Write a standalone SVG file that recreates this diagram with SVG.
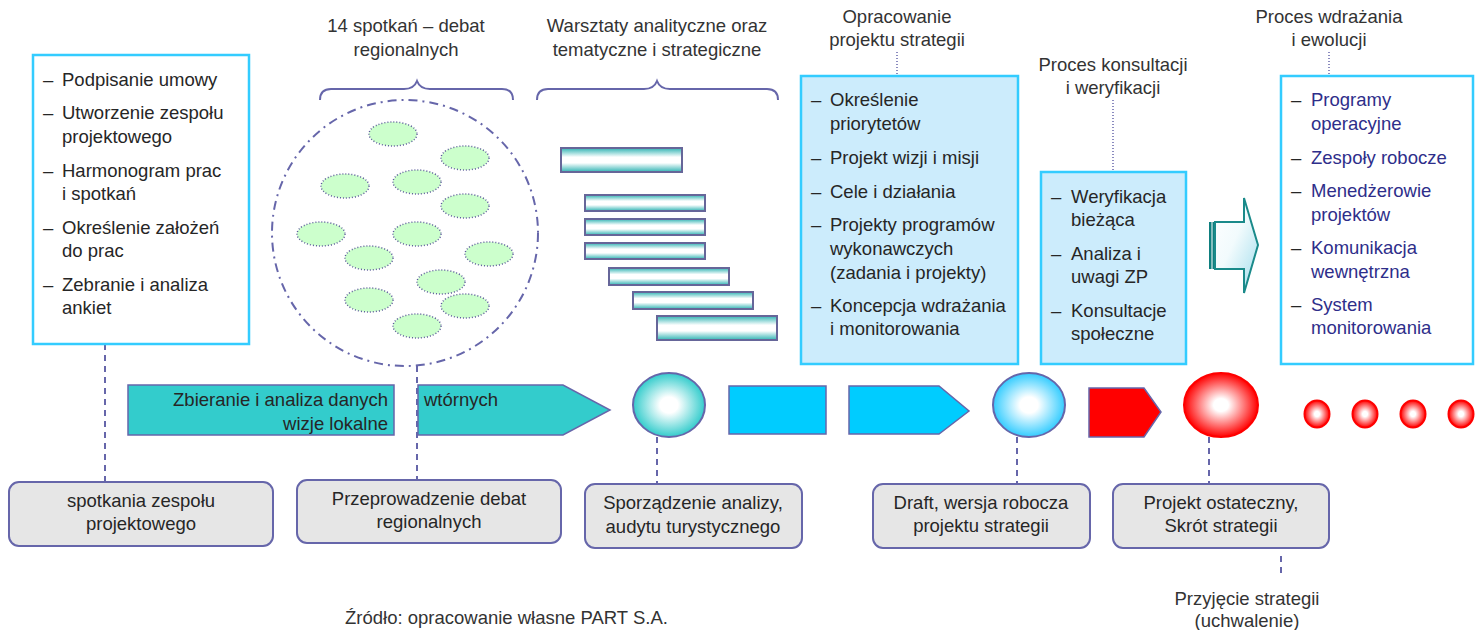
<svg xmlns="http://www.w3.org/2000/svg" width="1481" height="630" viewBox="0 0 1481 630">
  <style>
    text { font-family: "Liberation Sans", Arial, sans-serif; font-size: 18.5px; fill: #262626; }
    .c { text-anchor: middle; }
    .lbl { fill: #333333; }
    .navy { fill: #2e2e8a; }
    .listbox { fill: #ffffff; stroke: #33ccff; stroke-width: 2.5; }
    .listbox.blue { fill: #ccecfc; }
    .step { fill: #e6e6e6; stroke: #6666aa; stroke-width: 2; }
    .dash { fill: none; stroke: #6666aa; stroke-width: 2; stroke-dasharray: 6 5; }
    .dot { fill: none; stroke: #6666aa; stroke-width: 1.5; stroke-dasharray: 1 2; }
    .brace { fill: none; stroke: #6666aa; stroke-width: 2; }
    .meet { fill: #ccffcc; stroke: #5c5c99; stroke-width: 1.5; stroke-dasharray: 1 2; }
    .bar { fill: url(#barGrad); stroke: #666699; stroke-width: 2; }
    .flow { stroke: #6666aa; stroke-width: 1.5; }
    .redball { fill: url(#redGrad); stroke: #ff0000; stroke-width: 2; }
  </style>
  <defs>
    <linearGradient id="barGrad" x1="0" y1="0" x2="0" y2="1">
      <stop offset="0" stop-color="#2fb3b3"/>
      <stop offset="0.38" stop-color="#ffffff"/>
      <stop offset="0.62" stop-color="#ffffff"/>
      <stop offset="1" stop-color="#2fb3b3"/>
    </linearGradient>
    <radialGradient id="tealGrad" cx="0.5" cy="0.5" r="0.5">
      <stop offset="0" stop-color="#ffffff"/>
      <stop offset="0.25" stop-color="#ffffff"/>
      <stop offset="1" stop-color="#33cccc"/>
    </radialGradient>
    <radialGradient id="blueGrad" cx="0.5" cy="0.5" r="0.5">
      <stop offset="0" stop-color="#ffffff"/>
      <stop offset="0.25" stop-color="#ffffff"/>
      <stop offset="1" stop-color="#33ccff"/>
    </radialGradient>
    <radialGradient id="redGrad" cx="0.5" cy="0.5" r="0.5">
      <stop offset="0" stop-color="#ffffff"/>
      <stop offset="0.2" stop-color="#ffffff"/>
      <stop offset="1" stop-color="#ff0000"/>
    </radialGradient>
    <linearGradient id="blockGrad" x1="0" y1="0" x2="1" y2="1">
      <stop offset="0" stop-color="#ffffff"/>
      <stop offset="0.45" stop-color="#f2fbfd"/>
      <stop offset="1" stop-color="#9fdcec"/>
    </linearGradient>
  </defs>

  <!-- connectors -->
  <g id="connectors">
    <line class="dash" x1="105" y1="344" x2="105" y2="482"/>
    <line class="dash" x1="417" y1="366" x2="417" y2="480"/>
    <line class="dash" x1="657" y1="437" x2="657" y2="484"/>
    <line class="dash" x1="1017" y1="437" x2="1017" y2="484"/>
    <line class="dash" x1="1209" y1="437" x2="1209" y2="484"/>
    <line class="dash" x1="1281" y1="556" x2="1281" y2="578"/>
    <line class="dot" x1="897" y1="52" x2="897" y2="76"/>
    <line class="dot" x1="1113" y1="100" x2="1113" y2="172"/>
    <line class="dot" x1="1329" y1="52" x2="1329" y2="76"/>
  </g>

  <!-- preparation tasks -->
  <g id="prep">
    <rect class="listbox" x="33" y="55" width="216" height="289"/>
    <text x="43" y="86">–</text><text x="62" y="86">Podpisanie umowy</text>
    <text x="43" y="119">–</text><text x="62" y="119">Utworzenie zespołu</text>
    <text x="62" y="143">projektowego</text>
    <text x="43" y="177">–</text><text x="62" y="177">Harmonogram prac</text>
    <text x="62" y="200">i spotkań</text>
    <text x="43" y="234">–</text><text x="62" y="234">Określenie założeń</text>
    <text x="62" y="257">do prac</text>
    <text x="43" y="291">–</text><text x="62" y="291">Zebranie i analiza</text>
    <text x="62" y="314">ankiet</text>
  </g>

  <!-- regional debates -->
  <g id="debates">
    <text class="lbl c" x="406" y="32">14 spotkań – debat</text>
    <text class="lbl c" x="406" y="56">regionalnych</text>
    <path class="brace" d="M320,100 Q320,89 331,89 H404 Q414,89 417,81 Q420,89 430,89 H502 Q513,89 513,100"/>
    <circle cx="405" cy="233" r="133" fill="none" stroke="#6666aa" stroke-width="2" stroke-dasharray="9 5 2 5"/>
    <ellipse class="meet" cx="393" cy="134" rx="24" ry="12"/>
    <ellipse class="meet" cx="465" cy="158" rx="24" ry="12"/>
    <ellipse class="meet" cx="345" cy="186" rx="24" ry="12"/>
    <ellipse class="meet" cx="417" cy="182" rx="24" ry="12"/>
    <ellipse class="meet" cx="465" cy="206" rx="24" ry="12"/>
    <ellipse class="meet" cx="321" cy="234" rx="24" ry="12"/>
    <ellipse class="meet" cx="417" cy="234" rx="24" ry="12"/>
    <ellipse class="meet" cx="369" cy="258" rx="24" ry="12"/>
    <ellipse class="meet" cx="489" cy="254" rx="24" ry="12"/>
    <ellipse class="meet" cx="441" cy="282" rx="24" ry="12"/>
    <ellipse class="meet" cx="369" cy="300" rx="24" ry="12"/>
    <ellipse class="meet" cx="465" cy="306" rx="24" ry="12"/>
    <ellipse class="meet" cx="417" cy="326" rx="24" ry="12"/>
  </g>

  <!-- workshops -->
  <g id="workshops">
    <text class="lbl c" x="657" y="32">Warsztaty analityczne oraz</text>
    <text class="lbl c" x="657" y="56">tematyczne i strategiczne</text>
    <path class="brace" d="M537,100 Q537,89 548,89 H644 Q654,89 657,81 Q660,89 670,89 H767 Q778,89 778,100"/>
    <rect class="bar" x="561" y="148" width="121" height="24"/>
    <rect class="bar" x="585" y="195" width="120" height="16"/>
    <rect class="bar" x="585" y="219" width="120" height="16"/>
    <rect class="bar" x="585" y="243" width="120" height="16"/>
    <rect class="bar" x="609" y="268" width="120" height="17"/>
    <rect class="bar" x="633" y="292" width="120" height="17"/>
    <rect class="bar" x="657" y="316" width="120" height="24"/>
  </g>

  <!-- strategy draft -->
  <g id="draft">
    <text class="lbl c" x="897" y="23">Opracowanie</text>
    <text class="lbl c" x="897" y="46">projektu strategii</text>
    <rect class="listbox blue" x="801" y="76" width="217" height="288"/>
    <text x="811" y="106">–</text><text x="830" y="106">Określenie</text>
    <text x="830" y="130">priorytetów</text>
    <text x="811" y="164">–</text><text x="830" y="164">Projekt wizji i misji</text>
    <text x="811" y="198">–</text><text x="830" y="198">Cele i działania</text>
    <text x="811" y="231">–</text><text x="830" y="231">Projekty programów</text>
    <text x="830" y="255">wykonawczych</text>
    <text x="830" y="279">(zadania i projekty)</text>
    <text x="811" y="312">–</text><text x="830" y="312">Koncepcja wdrażania</text>
    <text x="830" y="335">i monitorowania</text>
  </g>

  <!-- consultation -->
  <g id="consult">
    <text class="lbl c" x="1113" y="71">Proces konsultacji</text>
    <text class="lbl c" x="1113" y="94">i weryfikacji</text>
    <rect class="listbox blue" x="1041" y="172" width="145" height="192"/>
    <text x="1051" y="203">–</text><text x="1071" y="203">Weryfikacja</text>
    <text x="1071" y="226">bieżąca</text>
    <text x="1051" y="260">–</text><text x="1071" y="260">Analiza i</text>
    <text x="1071" y="283">uwagi ZP</text>
    <text x="1051" y="317">–</text><text x="1071" y="317">Konsultacje</text>
    <text x="1071" y="340">społeczne</text>
  </g>

  <!-- block arrow -->
  <g id="handover">
    <rect x="1209" y="222" width="2.5" height="47" fill="#0e7f7f"/>
    <rect x="1212.5" y="222" width="2.5" height="47" fill="#0e7f7f"/>
    <path d="M1215,222 H1244 V198 L1258,245 L1244,293 V269 H1215 Z" fill="url(#blockGrad)" stroke="#1a8a8a" stroke-width="2"/>
  </g>

  <!-- implementation -->
  <g id="implement">
    <text class="lbl c" x="1329" y="23">Proces wdrażania</text>
    <text class="lbl c" x="1329" y="46">i ewolucji</text>
    <rect class="listbox" x="1281" y="76" width="192" height="288"/>
    <text x="1291" y="106">–</text><text class="navy" x="1311" y="106">Programy</text>
    <text class="navy" x="1311" y="130">operacyjne</text>
    <text x="1291" y="164">–</text><text class="navy" x="1311" y="164">Zespoły robocze</text>
    <text x="1291" y="197">–</text><text class="navy" x="1311" y="197">Menedżerowie</text>
    <text class="navy" x="1311" y="221">projektów</text>
    <text x="1291" y="254">–</text><text class="navy" x="1311" y="254">Komunikacja</text>
    <text class="navy" x="1311" y="278">wewnętrzna</text>
    <text x="1291" y="311">–</text><text class="navy" x="1311" y="311">System</text>
    <text class="navy" x="1311" y="334">monitorowania</text>
  </g>

  <!-- timeline -->
  <g id="data-collection">
    <rect class="flow" x="128" y="385" width="266" height="50" fill="#33cccc"/>
    <path class="flow" d="M418,385 H563 L610,410 L563,435 H418 Z" fill="#33cccc"/>
    <text x="388" y="406" text-anchor="end">Zbieranie i analiza danych</text>
    <text x="388" y="430" text-anchor="end">wizje lokalne</text>
    <text x="424" y="406">wtórnych</text>
  </g>
  <g id="milestone-analysis">
    <ellipse cx="669" cy="405" rx="36" ry="32" fill="url(#tealGrad)" stroke="#6666aa" stroke-width="2"/>
  </g>
  <g id="work-block">
    <rect class="flow" x="729" y="386" width="97" height="48" fill="#00ccff"/>
  </g>
  <g id="work-arrow">
    <path class="flow" d="M849,386 H939 L969,411 L939,434 H849 Z" fill="#00ccff"/>
  </g>
  <g id="milestone-draft">
    <ellipse cx="1029" cy="405" rx="36" ry="32" fill="url(#blueGrad)" stroke="#6666aa" stroke-width="2"/>
  </g>
  <g id="consult-arrow">
    <path class="flow" d="M1089,388 H1144 L1161,412 L1144,437 H1089 Z" fill="#ff0000"/>
  </g>
  <g id="milestone-final">
    <ellipse class="redball" cx="1221" cy="405" rx="37" ry="32"/>
  </g>
  <g id="continuation">
    <ellipse class="redball" cx="1317" cy="414" rx="12.5" ry="13.5"/>
    <ellipse class="redball" cx="1365" cy="414" rx="12.5" ry="13.5"/>
    <ellipse class="redball" cx="1413" cy="414" rx="12.5" ry="13.5"/>
    <ellipse class="redball" cx="1461" cy="414" rx="12.5" ry="13.5"/>
  </g>

  <!-- outcomes -->
  <g id="out-team">
    <rect class="step" x="9" y="482" width="264" height="64" rx="10"/>
    <text class="c" x="141" y="507">spotkania zespołu</text>
    <text class="c" x="141" y="530">projektowego</text>
  </g>
  <g id="out-debates">
    <rect class="step" x="297" y="480" width="264" height="63" rx="10"/>
    <text class="c" x="429" y="505">Przeprowadzenie debat</text>
    <text class="c" x="429" y="528">regionalnych</text>
  </g>
  <g id="out-audit">
    <rect class="step" x="585" y="484" width="217" height="64" rx="10"/>
    <text class="c" x="693" y="509">Sporządzenie analizy,</text>
    <text class="c" x="693" y="533">audytu turystycznego</text>
  </g>
  <g id="out-draft">
    <rect class="step" x="873" y="484" width="217" height="64" rx="10"/>
    <text class="c" x="981" y="509">Draft, wersja robocza</text>
    <text class="c" x="981" y="532">projektu strategii</text>
  </g>
  <g id="out-final">
    <rect class="step" x="1113" y="484" width="216" height="64" rx="10"/>
    <text class="c" x="1221" y="509">Projekt ostateczny,</text>
    <text class="c" x="1221" y="532">Skrót strategii</text>
  </g>
  <g id="adoption">
    <text class="c lbl" x="1247" y="605">Przyjęcie strategii</text>
    <text class="c lbl" x="1247" y="627">(uchwalenie)</text>
  </g>

  <text class="lbl" x="345" y="624">Źródło: opracowanie własne PART S.A.</text>
</svg>
